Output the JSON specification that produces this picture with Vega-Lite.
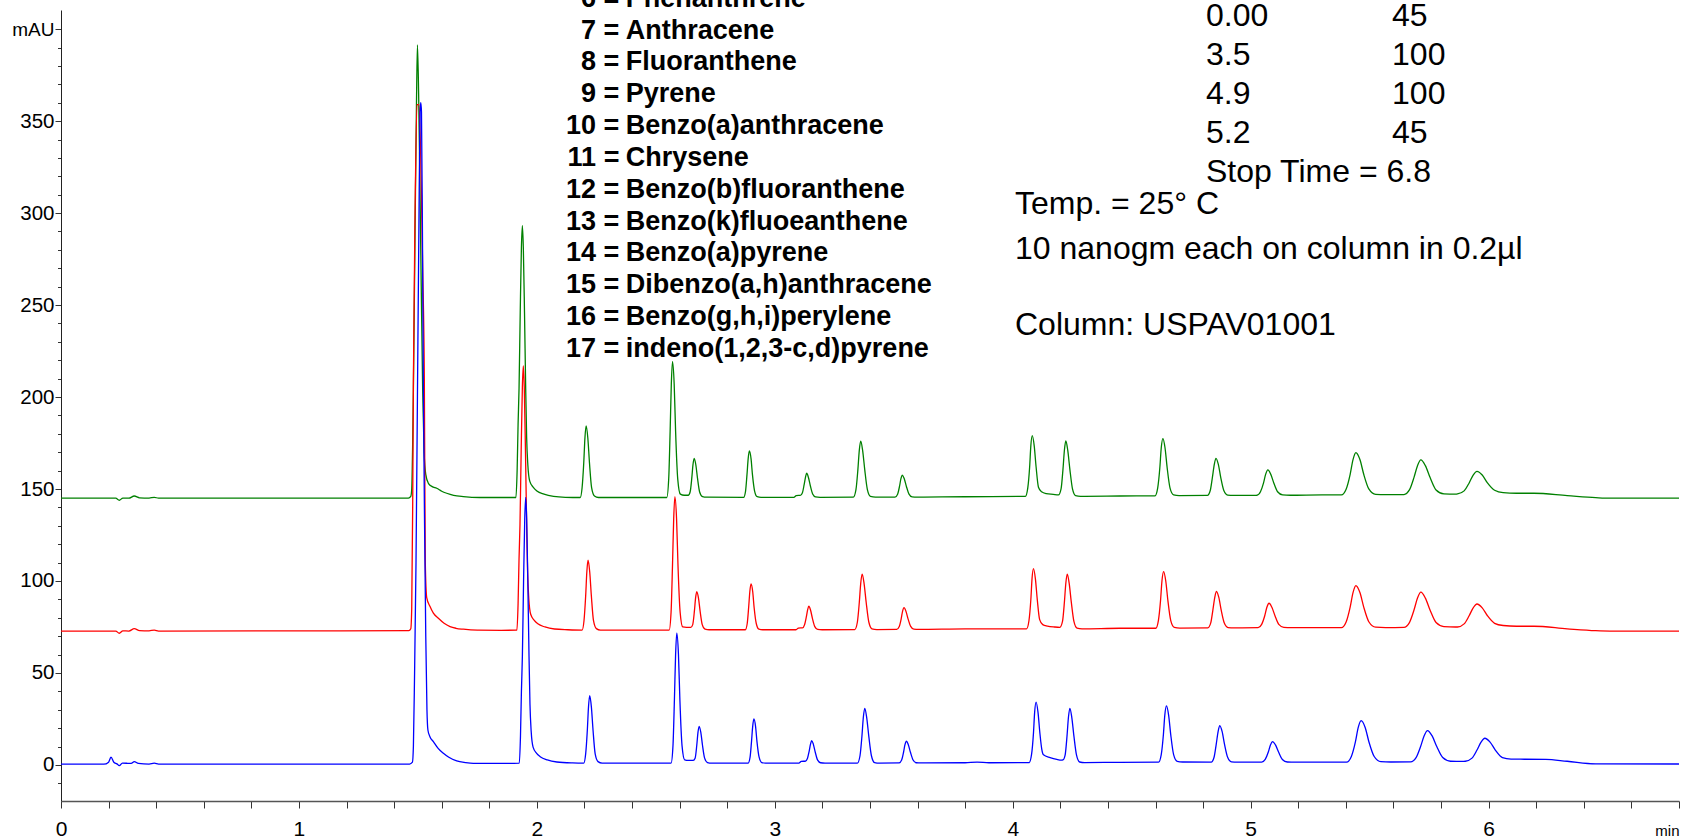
{
  "$schema": "https://vega.github.io/schema/vega-lite/v6.json",
  "width": 1618,
  "height": 791,
  "autosize": {"type": "none"},
  "padding": {"left": 61, "top": 10, "right": 8, "bottom": 37},
  "background": "white",
  "config": {"view": {"stroke": null}},
  "resolve": {"axis": {"x": "independent", "y": "independent"}},
  "datasets": {
    "green": [
      {"min":0,"mAU":145.0},{"min":0.2,"mAU":145.0},{"min":0.23,"mAU":145.0},{"min":0.245,"mAU":143.9},{"min":0.26,"mAU":145.1},{"min":0.285,"mAU":145.0},{"min":0.308,"mAU":146.2},{"min":0.33,"mAU":145.2},{"min":0.37,"mAU":145.1},{"min":0.392,"mAU":145.5},{"min":0.41,"mAU":145.0},{"min":1.0,"mAU":145.1},{"min":1.46,"mAU":145.1},
      {"min":1.47,"mAU":146.0},{"min":1.474,"mAU":150},{"min":1.478,"mAU":175},{"min":1.481,"mAU":204},{"min":1.488,"mAU":290},{"min":1.494,"mAU":360},{"min":1.498,"mAU":391.4},{"min":1.503,"mAU":365},{"min":1.508,"mAU":320},{"min":1.514,"mAU":260},{"min":1.52,"mAU":204},{"min":1.526,"mAU":170},{"min":1.533,"mAU":158},{"min":1.544,"mAU":153.1},{"min":1.56,"mAU":151.3},{"min":1.579,"mAU":150.4},{"min":1.6,"mAU":148.8},{"min":1.621,"mAU":147.7},{"min":1.65,"mAU":146.6},{"min":1.691,"mAU":145.9},{"min":1.76,"mAU":145.4},
      {"min":1.912,"mAU":145.4},{"min":1.917,"mAU":160.2},{"min":1.921,"mAU":185.3},{"min":1.925,"mAU":204.5},{"min":1.93,"mAU":245.9},{"min":1.935,"mAU":281.4},{"min":1.939,"mAU":293.2},{"min":1.943,"mAU":281.4},{"min":1.948,"mAU":245.9},{"min":1.953,"mAU":204.5},{"min":1.957,"mAU":177.9},{"min":1.962,"mAU":163.1},{"min":1.97,"mAU":154.3},{"min":1.985,"mAU":150.9},{"min":2.0,"mAU":148.9},{"min":2.03,"mAU":147.2},{"min":2.07,"mAU":146.0},{"min":2.12,"mAU":145.5},
      {"min":2.182,"mAU":145.4},{"min":2.19,"mAU":150.7},{"min":2.197,"mAU":164.3},{"min":2.202,"mAU":177.9},{"min":2.207,"mAU":184.3},{"min":2.214,"mAU":177.9},{"min":2.221,"mAU":164.3},{"min":2.23,"mAU":150.7},{"min":2.242,"mAU":146.2},{"min":2.259,"mAU":145.4},
      {"min":2.546,"mAU":145.4},{"min":2.554,"mAU":155.4},{"min":2.56,"mAU":181.4},{"min":2.565,"mAU":207.1},{"min":2.57,"mAU":219.3},{"min":2.577,"mAU":207.1},{"min":2.583,"mAU":181.4},{"min":2.592,"mAU":155.4},{"min":2.603,"mAU":147.2},{"min":2.619,"mAU":146.6},
      {"min":2.636,"mAU":146.6},{"min":2.644,"mAU":148.4},{"min":2.651,"mAU":155.9},{"min":2.656,"mAU":163.2},{"min":2.661,"mAU":166.7},{"min":2.668,"mAU":163.2},{"min":2.675,"mAU":155.9},{"min":2.684,"mAU":148.4},{"min":2.696,"mAU":145.9},{"min":2.713,"mAU":145.6},
      {"min":2.869,"mAU":145.5},{"min":2.877,"mAU":148.9},{"min":2.883,"mAU":157.8},{"min":2.888,"mAU":166.5},{"min":2.893,"mAU":170.7},{"min":2.9,"mAU":166.5},{"min":2.906,"mAU":157.8},{"min":2.915,"mAU":148.9},{"min":2.926,"mAU":145.8},{"min":2.942,"mAU":145.5},
      {"min":3.08,"mAU":145.5},{"min":3.09,"mAU":146.4},{"min":3.1,"mAU":146.5},{"min":3.107,"mAU":146.5},{"min":3.116,"mAU":148.0},{"min":3.123,"mAU":152.2},{"min":3.129,"mAU":156.5},{"min":3.134,"mAU":158.6},{"min":3.141,"mAU":156.4},{"min":3.149,"mAU":151.9},{"min":3.159,"mAU":147.3},{"min":3.171,"mAU":145.7},{"min":3.19,"mAU":145.5},
      {"min":3.33,"mAU":145.6},{"min":3.341,"mAU":149.7},{"min":3.349,"mAU":160.4},{"min":3.355,"mAU":171.0},{"min":3.361,"mAU":176.0},{"min":3.369,"mAU":171.0},{"min":3.378,"mAU":160.4},{"min":3.389,"mAU":149.7},{"min":3.402,"mAU":146.0},{"min":3.423,"mAU":145.6},
      {"min":3.505,"mAU":145.6},{"min":3.516,"mAU":147.2},{"min":3.524,"mAU":151.4},{"min":3.53,"mAU":155.6},{"min":3.536,"mAU":157.6},{"min":3.544,"mAU":155.6},{"min":3.553,"mAU":151.4},{"min":3.564,"mAU":147.2},{"min":3.577,"mAU":145.7},{"min":3.598,"mAU":145.6},
      {"min":3.8,"mAU":145.8},
      {"min":4.053,"mAU":146.0},{"min":4.063,"mAU":150.5},{"min":4.071,"mAU":162.1},{"min":4.076,"mAU":173.6},{"min":4.082,"mAU":179.0},{"min":4.09,"mAU":173.6},{"min":4.098,"mAU":162.1},{"min":4.108,"mAU":151.0},{"min":4.121,"mAU":148.5},{"min":4.141,"mAU":147.5},{"min":4.17,"mAU":147.1},
      {"min":4.192,"mAU":146.8},{"min":4.203,"mAU":150.1},{"min":4.211,"mAU":160.7},{"min":4.217,"mAU":171.1},{"min":4.223,"mAU":176.1},{"min":4.231,"mAU":171.1},{"min":4.24,"mAU":160.7},{"min":4.251,"mAU":150.1},{"min":4.264,"mAU":146.4},{"min":4.285,"mAU":146.0},
      {"min":4.45,"mAU":146.2},
      {"min":4.598,"mAU":146.3},{"min":4.609,"mAU":150.5},{"min":4.618,"mAU":161.4},{"min":4.624,"mAU":172.3},{"min":4.631,"mAU":177.4},{"min":4.64,"mAU":172.3},{"min":4.649,"mAU":161.4},{"min":4.661,"mAU":150.5},{"min":4.676,"mAU":146.8},{"min":4.699,"mAU":146.4},
      {"min":4.818,"mAU":146.5},{"min":4.83,"mAU":149.2},{"min":4.839,"mAU":156.3},{"min":4.847,"mAU":163.4},{"min":4.854,"mAU":166.7},{"min":4.864,"mAU":163.4},{"min":4.874,"mAU":156.3},{"min":4.887,"mAU":149.2},{"min":4.903,"mAU":146.7},{"min":4.928,"mAU":146.5},
      {"min":5.026,"mAU":146.6},{"min":5.041,"mAU":148.5},{"min":5.054,"mAU":153.3},{"min":5.063,"mAU":158.1},{"min":5.072,"mAU":160.4},{"min":5.084,"mAU":158.1},{"min":5.097,"mAU":153.3},{"min":5.113,"mAU":148.5},{"min":5.134,"mAU":146.8},{"min":5.166,"mAU":146.6},
      {"min":5.3,"mAU":146.8},
      {"min":5.381,"mAU":146.8},{"min":5.401,"mAU":149.9},{"min":5.418,"mAU":158.0},{"min":5.43,"mAU":166.0},{"min":5.442,"mAU":169.8},{"min":5.459,"mAU":166.0},{"min":5.475,"mAU":158.0},{"min":5.497,"mAU":149.9},{"min":5.525,"mAU":147.1},{"min":5.567,"mAU":146.9},
      {"min":5.644,"mAU":147.0},{"min":5.667,"mAU":149.5},{"min":5.686,"mAU":156.2},{"min":5.701,"mAU":162.7},{"min":5.715,"mAU":165.8},{"min":5.734,"mAU":162.7},{"min":5.754,"mAU":156.2},{"min":5.779,"mAU":149.5},{"min":5.812,"mAU":147.4},{"min":5.861,"mAU":147.2},
      {"min":5.869,"mAU":147.3},{"min":5.897,"mAU":149.0},{"min":5.918,"mAU":153.3},{"min":5.935,"mAU":157.6},{"min":5.951,"mAU":159.6},{"min":5.973,"mAU":157.6},{"min":5.995,"mAU":153.3},{"min":6.025,"mAU":149.3},{"min":6.061,"mAU":148.0},{"min":6.117,"mAU":147.7},
      {"min":6.19,"mAU":147.7},{"min":6.33,"mAU":146.4},{"min":6.45,"mAU":145.3},{"min":6.51,"mAU":145.0},{"min":6.8,"mAU":145.0}
    ],
    "red": [
      {"min":0,"mAU":72.8},{"min":0.23,"mAU":72.8},{"min":0.245,"mAU":71.6},{"min":0.26,"mAU":72.9},{"min":0.285,"mAU":72.8},{"min":0.308,"mAU":74.1},{"min":0.33,"mAU":73.0},{"min":0.37,"mAU":72.9},{"min":0.392,"mAU":73.3},{"min":0.41,"mAU":72.8},{"min":1.0,"mAU":72.9},{"min":1.462,"mAU":73.0},
      {"min":1.47,"mAU":74.0},{"min":1.474,"mAU":85},{"min":1.478,"mAU":140},{"min":1.481,"mAU":209},{"min":1.488,"mAU":300},{"min":1.496,"mAU":359},{"min":1.504,"mAU":359},{"min":1.512,"mAU":330},{"min":1.52,"mAU":270},{"min":1.527,"mAU":209},{"min":1.531,"mAU":110},{"min":1.537,"mAU":91},{"min":1.551,"mAU":86.1},{"min":1.565,"mAU":82.5},{"min":1.586,"mAU":79.7},{"min":1.61,"mAU":77.0},{"min":1.635,"mAU":75.2},{"min":1.66,"mAU":74.3},{"min":1.691,"mAU":73.8},{"min":1.75,"mAU":73.3},{"min":1.85,"mAU":73.2},
      {"min":1.916,"mAU":73.3},{"min":1.921,"mAU":87.7},{"min":1.925,"mAU":112.1},{"min":1.929,"mAU":130.7},{"min":1.934,"mAU":170.9},{"min":1.939,"mAU":205.4},{"min":1.943,"mAU":216.9},{"min":1.947,"mAU":205.4},{"min":1.952,"mAU":170.9},{"min":1.957,"mAU":130.7},{"min":1.961,"mAU":104.9},{"min":1.966,"mAU":90.5},{"min":1.974,"mAU":81.9},{"min":1.989,"mAU":78.6},{"min":2.004,"mAU":76.7},{"min":2.034,"mAU":75.0},{"min":2.074,"mAU":73.9},{"min":2.13,"mAU":73.5},
      {"min":2.19,"mAU":73.3},{"min":2.198,"mAU":78.4},{"min":2.205,"mAU":91.8},{"min":2.21,"mAU":105.0},{"min":2.215,"mAU":111.3},{"min":2.222,"mAU":105.0},{"min":2.229,"mAU":91.8},{"min":2.238,"mAU":78.4},{"min":2.25,"mAU":74.1},{"min":2.267,"mAU":73.3},
      {"min":2.556,"mAU":73.3},{"min":2.564,"mAU":83.1},{"min":2.57,"mAU":108.7},{"min":2.575,"mAU":133.9},{"min":2.58,"mAU":145.9},{"min":2.587,"mAU":133.9},{"min":2.593,"mAU":108.7},{"min":2.602,"mAU":83.1},{"min":2.613,"mAU":75.0},{"min":2.629,"mAU":74.8},
      {"min":2.647,"mAU":74.8},{"min":2.655,"mAU":76.3},{"min":2.662,"mAU":83.6},{"min":2.667,"mAU":90.8},{"min":2.672,"mAU":94.2},{"min":2.679,"mAU":90.8},{"min":2.686,"mAU":83.6},{"min":2.695,"mAU":76.3},{"min":2.707,"mAU":73.8},{"min":2.724,"mAU":73.5},
      {"min":2.876,"mAU":73.5},{"min":2.884,"mAU":76.9},{"min":2.89,"mAU":85.6},{"min":2.895,"mAU":94.3},{"min":2.9,"mAU":98.4},{"min":2.907,"mAU":94.3},{"min":2.913,"mAU":85.6},{"min":2.922,"mAU":76.9},{"min":2.933,"mAU":73.8},{"min":2.949,"mAU":73.5},
      {"min":3.089,"mAU":73.5},{"min":3.099,"mAU":74.4},{"min":3.109,"mAU":74.5},{"min":3.116,"mAU":74.5},{"min":3.125,"mAU":76.2},{"min":3.132,"mAU":80.2},{"min":3.138,"mAU":84.4},{"min":3.143,"mAU":86.3},{"min":3.15,"mAU":84.2},{"min":3.158,"mAU":79.7},{"min":3.168,"mAU":75.2},{"min":3.18,"mAU":73.7},{"min":3.199,"mAU":73.5},
      {"min":3.336,"mAU":73.6},{"min":3.347,"mAU":77.7},{"min":3.355,"mAU":88.3},{"min":3.361,"mAU":98.7},{"min":3.367,"mAU":103.7},{"min":3.375,"mAU":98.7},{"min":3.384,"mAU":88.3},{"min":3.395,"mAU":77.7},{"min":3.408,"mAU":74.0},{"min":3.429,"mAU":73.6},
      {"min":3.512,"mAU":73.7},{"min":3.523,"mAU":75.3},{"min":3.531,"mAU":79.4},{"min":3.537,"mAU":83.6},{"min":3.543,"mAU":85.5},{"min":3.551,"mAU":83.6},{"min":3.56,"mAU":79.4},{"min":3.571,"mAU":75.3},{"min":3.584,"mAU":73.8},{"min":3.605,"mAU":73.7},
      {"min":3.8,"mAU":74.0},
      {"min":4.058,"mAU":74.0},{"min":4.068,"mAU":78.4},{"min":4.076,"mAU":89.9},{"min":4.081,"mAU":101.3},{"min":4.087,"mAU":106.7},{"min":4.095,"mAU":101.3},{"min":4.103,"mAU":89.9},{"min":4.113,"mAU":79.0},{"min":4.126,"mAU":76.3},{"min":4.146,"mAU":75.5},{"min":4.175,"mAU":75.0},
      {"min":4.198,"mAU":74.8},{"min":4.209,"mAU":78.0},{"min":4.217,"mAU":88.5},{"min":4.223,"mAU":98.8},{"min":4.229,"mAU":103.7},{"min":4.237,"mAU":98.8},{"min":4.246,"mAU":88.5},{"min":4.257,"mAU":78.0},{"min":4.27,"mAU":74.4},{"min":4.291,"mAU":74.0},
      {"min":4.45,"mAU":74.3},
      {"min":4.601,"mAU":74.3},{"min":4.612,"mAU":78.5},{"min":4.621,"mAU":89.3},{"min":4.627,"mAU":100.0},{"min":4.634,"mAU":105.1},{"min":4.643,"mAU":100.0},{"min":4.652,"mAU":89.3},{"min":4.664,"mAU":78.5},{"min":4.679,"mAU":74.8},{"min":4.702,"mAU":74.4},
      {"min":4.82,"mAU":74.5},{"min":4.832,"mAU":77.2},{"min":4.841,"mAU":84.2},{"min":4.849,"mAU":91.1},{"min":4.856,"mAU":94.4},{"min":4.866,"mAU":91.1},{"min":4.876,"mAU":84.2},{"min":4.889,"mAU":77.2},{"min":4.905,"mAU":74.7},{"min":4.93,"mAU":74.5},
      {"min":5.031,"mAU":74.6},{"min":5.046,"mAU":76.4},{"min":5.059,"mAU":81.1},{"min":5.068,"mAU":85.7},{"min":5.077,"mAU":87.9},{"min":5.089,"mAU":85.7},{"min":5.102,"mAU":81.1},{"min":5.118,"mAU":76.4},{"min":5.139,"mAU":74.8},{"min":5.171,"mAU":74.6},
      {"min":5.3,"mAU":74.6},
      {"min":5.381,"mAU":74.6},{"min":5.401,"mAU":77.7},{"min":5.418,"mAU":85.8},{"min":5.43,"mAU":93.7},{"min":5.442,"mAU":97.5},{"min":5.459,"mAU":93.7},{"min":5.475,"mAU":85.8},{"min":5.497,"mAU":77.7},{"min":5.525,"mAU":74.9},{"min":5.567,"mAU":74.7},
      {"min":5.644,"mAU":74.8},{"min":5.667,"mAU":77.4},{"min":5.686,"mAU":84.1},{"min":5.701,"mAU":90.7},{"min":5.715,"mAU":93.9},{"min":5.734,"mAU":90.7},{"min":5.754,"mAU":84.1},{"min":5.779,"mAU":77.4},{"min":5.812,"mAU":75.2},{"min":5.861,"mAU":75.0},
      {"min":5.869,"mAU":75.0},{"min":5.897,"mAU":76.7},{"min":5.918,"mAU":81.1},{"min":5.935,"mAU":85.4},{"min":5.951,"mAU":87.5},{"min":5.973,"mAU":85.4},{"min":5.995,"mAU":81.1},{"min":6.025,"mAU":77.0},{"min":6.061,"mAU":75.8},{"min":6.117,"mAU":75.4},
      {"min":6.19,"mAU":75.4},{"min":6.33,"mAU":74.0},{"min":6.45,"mAU":73.0},{"min":6.51,"mAU":72.8},{"min":6.8,"mAU":72.8}
    ],
    "blue": [
      {"min":0,"mAU":0.4},{"min":0.18,"mAU":0.4},{"min":0.2,"mAU":1.5},{"min":0.21,"mAU":4.2},{"min":0.222,"mAU":1.5},{"min":0.235,"mAU":0.6},{"min":0.245,"mAU":-0.4},{"min":0.258,"mAU":1.0},{"min":0.28,"mAU":0.9},{"min":0.295,"mAU":0.8},{"min":0.308,"mAU":1.8},{"min":0.325,"mAU":0.8},{"min":0.37,"mAU":0.5},{"min":0.392,"mAU":1.0},{"min":0.41,"mAU":0.5},{"min":1.0,"mAU":0.5},{"min":1.465,"mAU":0.5},
      {"min":1.477,"mAU":1.5},{"min":1.481,"mAU":10},{"min":1.486,"mAU":50},{"min":1.492,"mAU":110},{"min":1.498,"mAU":200},{"min":1.504,"mAU":290},{"min":1.509,"mAU":355},{"min":1.512,"mAU":360},{"min":1.515,"mAU":355},{"min":1.519,"mAU":290},{"min":1.523,"mAU":204},{"min":1.528,"mAU":130},{"min":1.533,"mAU":70},{"min":1.538,"mAU":30},{"min":1.542,"mAU":19},{"min":1.55,"mAU":15.5},{"min":1.565,"mAU":12.7},{"min":1.585,"mAU":9.0},{"min":1.607,"mAU":6.4},{"min":1.63,"mAU":4.2},{"min":1.663,"mAU":2.2},{"min":1.7,"mAU":1.3},{"min":1.733,"mAU":0.9},{"min":1.88,"mAU":0.9},
      {"min":1.926,"mAU":1.0},{"min":1.931,"mAU":15.5},{"min":1.935,"mAU":40.0},{"min":1.939,"mAU":58.8},{"min":1.944,"mAU":99.3},{"min":1.949,"mAU":133.9},{"min":1.953,"mAU":145.5},{"min":1.957,"mAU":133.9},{"min":1.962,"mAU":99.3},{"min":1.967,"mAU":58.8},{"min":1.971,"mAU":32.8},{"min":1.976,"mAU":18.3},{"min":1.984,"mAU":9.7},{"min":1.999,"mAU":6.3},{"min":2.014,"mAU":4.5},{"min":2.044,"mAU":2.7},{"min":2.084,"mAU":1.6},{"min":2.15,"mAU":1.1},
      {"min":2.197,"mAU":1.0},{"min":2.205,"mAU":6.0},{"min":2.212,"mAU":18.9},{"min":2.217,"mAU":31.6},{"min":2.222,"mAU":37.7},{"min":2.229,"mAU":31.6},{"min":2.236,"mAU":18.9},{"min":2.245,"mAU":6.0},{"min":2.257,"mAU":1.8},{"min":2.274,"mAU":1.0},
      {"min":2.564,"mAU":1.0},{"min":2.572,"mAU":10.5},{"min":2.578,"mAU":35.4},{"min":2.583,"mAU":60.0},{"min":2.588,"mAU":71.6},{"min":2.595,"mAU":60.0},{"min":2.601,"mAU":35.4},{"min":2.61,"mAU":10.5},{"min":2.621,"mAU":2.8},{"min":2.637,"mAU":2.5},
      {"min":2.657,"mAU":2.5},{"min":2.665,"mAU":3.7},{"min":2.672,"mAU":10.7},{"min":2.677,"mAU":17.7},{"min":2.682,"mAU":21.0},{"min":2.689,"mAU":17.7},{"min":2.696,"mAU":10.7},{"min":2.705,"mAU":3.7},{"min":2.717,"mAU":1.3},{"min":2.734,"mAU":1.0},
      {"min":2.888,"mAU":1.0},{"min":2.896,"mAU":4.2},{"min":2.902,"mAU":12.7},{"min":2.907,"mAU":21.0},{"min":2.912,"mAU":25.0},{"min":2.919,"mAU":21.0},{"min":2.925,"mAU":12.7},{"min":2.934,"mAU":4.2},{"min":2.945,"mAU":1.3},{"min":2.961,"mAU":1.0},
      {"min":3.101,"mAU":1.0},{"min":3.111,"mAU":1.9},{"min":3.121,"mAU":2.0},{"min":3.128,"mAU":2.0},{"min":3.137,"mAU":3.5},{"min":3.144,"mAU":7.3},{"min":3.15,"mAU":11.3},{"min":3.155,"mAU":13.2},{"min":3.162,"mAU":11.2},{"min":3.17,"mAU":6.9},{"min":3.18,"mAU":2.6},{"min":3.192,"mAU":1.2},{"min":3.211,"mAU":1.0},
      {"min":3.347,"mAU":1.0},{"min":3.358,"mAU":5.0},{"min":3.366,"mAU":15.5},{"min":3.372,"mAU":25.9},{"min":3.378,"mAU":30.8},{"min":3.386,"mAU":25.9},{"min":3.395,"mAU":15.5},{"min":3.406,"mAU":5.0},{"min":3.419,"mAU":1.3},{"min":3.44,"mAU":1.0},
      {"min":3.522,"mAU":1.1},{"min":3.533,"mAU":2.7},{"min":3.541,"mAU":6.9},{"min":3.547,"mAU":11.0},{"min":3.553,"mAU":13.0},{"min":3.561,"mAU":11.0},{"min":3.57,"mAU":6.9},{"min":3.581,"mAU":2.7},{"min":3.594,"mAU":1.2},{"min":3.615,"mAU":1.1},
      {"min":3.8,"mAU":1.2},{"min":3.85,"mAU":1.5},{"min":3.9,"mAU":1.2},
      {"min":4.069,"mAU":1.3},{"min":4.079,"mAU":5.7},{"min":4.087,"mAU":17.3},{"min":4.092,"mAU":28.7},{"min":4.098,"mAU":34.1},{"min":4.106,"mAU":28.7},{"min":4.114,"mAU":17.3},{"min":4.122,"mAU":8.5},{"min":4.129,"mAU":5.5},{"min":4.157,"mAU":4.0},{"min":4.185,"mAU":3.0},{"min":4.205,"mAU":2.6},
      {"min":4.211,"mAU":2.7},{"min":4.22,"mAU":5.3},{"min":4.228,"mAU":15.7},{"min":4.234,"mAU":25.9},{"min":4.24,"mAU":30.8},{"min":4.248,"mAU":25.9},{"min":4.257,"mAU":15.7},{"min":4.268,"mAU":5.3},{"min":4.281,"mAU":1.6},{"min":4.302,"mAU":1.3},
      {"min":4.45,"mAU":1.4},
      {"min":4.613,"mAU":1.5},{"min":4.624,"mAU":5.6},{"min":4.633,"mAU":16.4},{"min":4.639,"mAU":27.1},{"min":4.646,"mAU":32.1},{"min":4.655,"mAU":27.1},{"min":4.664,"mAU":16.4},{"min":4.676,"mAU":5.6},{"min":4.691,"mAU":2.0},{"min":4.714,"mAU":1.6},
      {"min":4.834,"mAU":1.5},{"min":4.846,"mAU":4.2},{"min":4.855,"mAU":11.2},{"min":4.863,"mAU":18.1},{"min":4.87,"mAU":21.4},{"min":4.88,"mAU":18.1},{"min":4.89,"mAU":11.2},{"min":4.903,"mAU":4.2},{"min":4.919,"mAU":1.7},{"min":4.944,"mAU":1.5},
      {"min":5.046,"mAU":1.5},{"min":5.061,"mAU":3.0},{"min":5.074,"mAU":7.0},{"min":5.083,"mAU":10.9},{"min":5.092,"mAU":12.7},{"min":5.104,"mAU":10.9},{"min":5.117,"mAU":7.0},{"min":5.133,"mAU":3.0},{"min":5.154,"mAU":1.6},{"min":5.186,"mAU":1.5},
      {"min":5.3,"mAU":1.5},
      {"min":5.403,"mAU":1.5},{"min":5.423,"mAU":4.6},{"min":5.44,"mAU":12.5},{"min":5.452,"mAU":20.4},{"min":5.464,"mAU":24.1},{"min":5.481,"mAU":20.4},{"min":5.497,"mAU":12.5},{"min":5.519,"mAU":4.6},{"min":5.547,"mAU":1.8},{"min":5.589,"mAU":1.6},
      {"min":5.672,"mAU":1.7},{"min":5.695,"mAU":4.0},{"min":5.714,"mAU":10.0},{"min":5.729,"mAU":15.9},{"min":5.743,"mAU":18.7},{"min":5.762,"mAU":15.9},{"min":5.782,"mAU":10.0},{"min":5.807,"mAU":4.0},{"min":5.84,"mAU":2.0},{"min":5.889,"mAU":1.9},
      {"min":5.902,"mAU":2.0},{"min":5.93,"mAU":3.7},{"min":5.951,"mAU":8.1},{"min":5.968,"mAU":12.4},{"min":5.984,"mAU":14.5},{"min":6.006,"mAU":12.4},{"min":6.028,"mAU":8.1},{"min":6.058,"mAU":4.0},{"min":6.094,"mAU":3.2},{"min":6.15,"mAU":3.1},
      {"min":6.24,"mAU":3.0},{"min":6.33,"mAU":2.0},{"min":6.45,"mAU":0.6},{"min":6.8,"mAU":0.5}
    ]
  },
  "layer": [
    {
      "data": {"name": "green"},
      "mark": {"type": "line", "color": "#008000", "strokeWidth": 1.3, "interpolate": "monotone"},
      "encoding": {
        "x": {
          "field": "min", "type": "quantitative",
          "scale": {"domain": [0, 6.8], "nice": false, "zero": false},
          "axis": {
            "title": null, "grid": false, "orient": "bottom",
            "values": [0,0.2,0.4,0.6,0.8,1,1.2,1.4,1.6,1.8,2,2.2,2.4,2.6,2.8,3,3.2,3.4,3.6,3.8,4,4.2,4.4,4.6,4.8,5,5.2,5.4,5.6,5.8,6,6.2,6.4,6.6,6.8],
            "labelExpr": "datum.value > 6.7 ? 'min' : (abs(datum.value - round(datum.value)) < 0.001 ? format(datum.value, 'd') : '')",
            "labelFont": "Liberation Sans",
            "labelFontSize": {"condition": {"test": "datum.value > 6.7", "value": 15}, "value": 21},
            "labelAlign": {"condition": {"test": "datum.value > 6.7", "value": "right"}, "value": "center"},
            "labelBaseline": "alphabetic",
            "labelPadding": 27,
            "labelColor": "#000000",
            "labelOverlap": false, "labelFlush": false, "labelBound": false,
            "tickSize": 7, "tickColor": "#333333", "tickWidth": 1,
            "domainColor": "#555555", "domainWidth": 1.5
          }
        },
        "y": {
          "field": "mAU", "type": "quantitative",
          "scale": {"domain": [-19.6, 410.4], "nice": false, "zero": false},
          "axis": {
            "title": null, "grid": false, "orient": "left",
            "values": [-10,0,10,20,30,40,50,60,70,80,90,100,110,120,130,140,150,160,170,180,190,200,210,220,230,240,250,260,270,280,290,300,310,320,330,340,350,360,370,380,390,400],
            "labelExpr": "datum.value == 400 ? 'mAU' : (datum.value >= 0 && datum.value % 50 == 0 ? format(datum.value, 'd') : '')",
            "labelFont": "Liberation Sans",
            "labelFontSize": {"condition": {"test": "datum.value == 400", "value": 19}, "value": 20.5},
            "labelColor": "#000000",
            "labelPadding": 1,
            "labelOverlap": false, "labelBound": false, "labelFlush": false,
            "tickSize": {"condition": {"test": "datum.value % 50 == 0", "value": 6}, "value": 3.5},
            "tickColor": "#333333", "tickWidth": 1,
            "domainColor": "#222222", "domainWidth": 1
          }
        }
      }
    },
    {
      "data": {"name": "red"},
      "mark": {"type": "line", "color": "#ff0000", "strokeWidth": 1.3, "interpolate": "monotone"},
      "encoding": {
        "x": {"field": "min", "type": "quantitative", "scale": {"domain": [0, 6.8], "nice": false, "zero": false}, "axis": null},
        "y": {"field": "mAU", "type": "quantitative", "scale": {"domain": [-19.6, 410.4], "nice": false, "zero": false}, "axis": null}
      }
    },
    {
      "data": {"name": "blue"},
      "mark": {"type": "line", "color": "#0000ff", "strokeWidth": 1.3, "interpolate": "monotone"},
      "encoding": {
        "x": {"field": "min", "type": "quantitative", "scale": {"domain": [0, 6.8], "nice": false, "zero": false}, "axis": null},
        "y": {"field": "mAU", "type": "quantitative", "scale": {"domain": [-19.6, 410.4], "nice": false, "zero": false}, "axis": null}
      }
    },
    {
      "data": {"values": [{}]},
      "mark": {
        "type": "text", "align": "right", "baseline": "alphabetic",
        "font": "Liberation Sans", "fontWeight": "bold", "fontSize": 27, "lineHeight": 31.85, "color": "#000000",
        "text": ["6 =", "7 =", "8 =", "9 =", "10 =", "11 =", "12 =", "13 =", "14 =", "15 =", "16 =", "17 ="]
      },
      "encoding": {
        "x": {"datum": 2.3468, "type": "quantitative", "axis": null},
        "y": {"datum": 412.2, "type": "quantitative", "axis": null}
      }
    },
    {
      "data": {"values": [{}]},
      "mark": {
        "type": "text", "align": "left", "baseline": "alphabetic",
        "font": "Liberation Sans", "fontWeight": "bold", "fontSize": 27, "lineHeight": 31.85, "color": "#000000",
        "text": ["Phenanthrene", "Anthracene", "Fluoranthene", "Pyrene", "Benzo(a)anthracene", "Chrysene", "Benzo(b)fluoranthene", "Benzo(k)fluoeanthene", "Benzo(a)pyrene", "Dibenzo(a,h)anthracene", "Benzo(g,h,i)perylene", "indeno(1,2,3-c,d)pyrene"]
      },
      "encoding": {
        "x": {"datum": 2.3738, "type": "quantitative", "axis": null},
        "y": {"datum": 412.2, "type": "quantitative", "axis": null}
      }
    },
    {
      "data": {"values": [{}]},
      "mark": {
        "type": "text", "align": "left", "baseline": "alphabetic",
        "font": "Liberation Sans", "fontSize": 32, "lineHeight": 38.9, "color": "#000000",
        "text": ["0.00", "3.5", "4.9", "5.2", "Stop Time = 6.8"]
      },
      "encoding": {
        "x": {"datum": 4.812, "type": "quantitative", "axis": null},
        "y": {"datum": 401.7, "type": "quantitative", "axis": null}
      }
    },
    {
      "data": {"values": [{}]},
      "mark": {
        "type": "text", "align": "left", "baseline": "alphabetic",
        "font": "Liberation Sans", "fontSize": 32, "lineHeight": 38.9, "color": "#000000",
        "text": ["45", "100", "100", "45"]
      },
      "encoding": {
        "x": {"datum": 5.594, "type": "quantitative", "axis": null},
        "y": {"datum": 401.7, "type": "quantitative", "axis": null}
      }
    },
    {
      "data": {"values": [{}]},
      "mark": {
        "type": "text", "align": "left", "baseline": "alphabetic",
        "font": "Liberation Sans", "fontSize": 32, "color": "#000000",
        "text": "Temp. = 25° C"
      },
      "encoding": {
        "x": {"datum": 4.0094, "type": "quantitative", "axis": null},
        "y": {"datum": 299.5, "type": "quantitative", "axis": null}
      }
    },
    {
      "data": {"values": [{}]},
      "mark": {
        "type": "text", "align": "left", "baseline": "alphabetic",
        "font": "Liberation Sans", "fontSize": 32, "color": "#000000",
        "text": "10 nanogm each on column in 0.2µl"
      },
      "encoding": {
        "x": {"datum": 4.0094, "type": "quantitative", "axis": null},
        "y": {"datum": 275.1, "type": "quantitative", "axis": null}
      }
    },
    {
      "data": {"values": [{}]},
      "mark": {
        "type": "text", "align": "left", "baseline": "alphabetic",
        "font": "Liberation Sans", "fontSize": 32, "color": "#000000",
        "text": "Column: USPAV01001"
      },
      "encoding": {
        "x": {"datum": 4.0094, "type": "quantitative", "axis": null},
        "y": {"datum": 233.6, "type": "quantitative", "axis": null}
      }
    }
  ]
}
